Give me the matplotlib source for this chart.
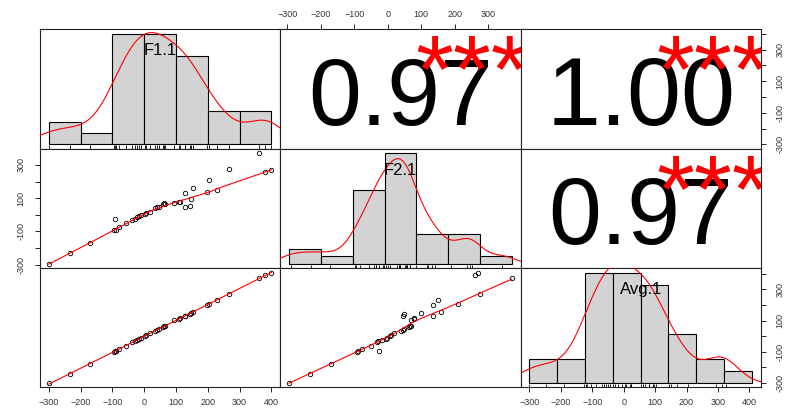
"""Correlation matrix chart: histograms on the diagonal, scatter + lowess below, |r| above."""

import matplotlib

matplotlib.use("Agg")
import matplotlib.pyplot as plt
import numpy as np

plt.rcParams["font.family"] = ["Liberation Sans", "DejaVu Sans"]

names = ["F1.1", "F2.1", "Avg.1"]
f1 = np.array([-300, -235, -171, -95, -91, -90, -78, -56, -37, -30, -22, -16, -10, 1, 5, 18, 33, 41, 45,
               59, 62, 64, 93, 109, 114, 128, 128, 143, 146, 154, 196, 204, 228, 268, 362, 380, 400], float)
f2 = np.array([-294, -232, -170, -92, -26, -90, -76, -50, -32, -28, -16, -6, -2, 6, 10, 18, 40, 46, 48,
               64, 70, 68, 70, 80, 80, 134, 46, 50, 98, 160, 136, 210, 150, 276, 370, 260, 270], float)
avg = np.array([-300, -240, -175, -104, -95, -94, -80, -60, -40, -32, -24, -18, -12, 2, 6, 19, 34, 42, 46,
                60, 64, 66, 101, 110, 115, 130, 130, 145, 148, 156, 201, 208, 232, 272, 371, 393, 408], float)
axis_ticks = np.arange(-300, 401, 100)

data = [f1, f2, avg]
nvar = len(data)


def padded(v):
    lo, hi = v.min(), v.max()
    d = 0.04 * (hi - lo)
    return lo - d, hi + d


def lowess(x, y, f=2 / 3, iters=3):
    order = np.argsort(x)
    x, y = x[order], y[order]
    n = len(x)
    ns = max(min(int(f * n + 1e-7), n), 2)
    rw = np.ones(n)
    fit = np.zeros(n)
    for _ in range(iters + 1):
        for i in range(n):
            d = np.abs(x - x[i])
            hmax = np.sort(d)[ns - 1]
            u = np.clip(d / max(hmax, 1e-12), 0, 1)
            w = (1 - u ** 3) ** 3 * rw
            sw = w.sum()
            xm, ym = (w * x).sum() / sw, (w * y).sum() / sw
            sxx = (w * (x - xm) ** 2).sum()
            slope = (w * (x - xm) * (y - ym)).sum() / sxx if sxx > 0 else 0.0
            fit[i] = ym + slope * (x[i] - xm)
        res = y - fit
        s = np.median(np.abs(res))
        if s == 0:
            break
        b = np.clip(res / (6 * s), -1, 1)
        rw = (1 - b ** 2) ** 2
    return x, fit


def kde(v):
    n = len(v)
    iqr = np.subtract(*np.percentile(v, [75, 25]))
    bw = 0.9 * min(v.std(ddof=1), iqr / 1.34) * n ** -0.2
    grid = np.linspace(v.min() - 3 * bw, v.max() + 3 * bw, 512)
    dens = np.exp(-0.5 * ((grid[:, None] - v[None, :]) / bw) ** 2).sum(axis=1) / (n * bw * np.sqrt(2 * np.pi))
    return grid, dens


def stars(r, n):
    t = np.inf if r >= 1 else r * np.sqrt((n - 2) / (1 - r ** 2))
    for crit, s in ((3.591, "***"), (2.724, "**"), (2.030, "*"), (1.690, ".")):
        if t > crit:
            return s
    return " "


def ticks_in(lim):
    return axis_ticks[(axis_ticks >= lim[0]) & (axis_ticks <= lim[1])]


fig = plt.figure(figsize=(8, 4.19), dpi=100)
left, right, bottom, top = 0.05, 0.951, 0.0752, 0.9296
pw, ph = (right - left) / nvar, (top - bottom) / nvar
label_kw = dict(labelsize=6.5, labelcolor="#333333", length=3.5, width=0.6, direction="out")

for i in range(nvar):
    for j in range(nvar):
        ax = fig.add_axes([left + j * pw, top - (i + 1) * ph, pw, ph])
        xlim, ylim = padded(data[j]), padded(data[i])
        ax.set_xlim(xlim)
        ax.set_ylim(ylim)
        ax.tick_params(which="both", length=0, labelbottom=False, labelleft=False)
        for sp in ax.spines.values():
            sp.set_linewidth(0.8)
            sp.set_color("#222222")

        if i == nvar - 1 and j % 2 == 0:
            ax.set_xticks(ticks_in(xlim))
            ax.tick_params(axis="x", bottom=True, labelbottom=True, pad=4, **label_kw)
        if i == 0 and j % 2 == 1:
            ax.set_xticks(ticks_in(xlim))
            ax.tick_params(axis="x", top=True, labeltop=True, bottom=False, labelbottom=False, pad=4, **label_kw)
        if (j == 0 and i % 2 == 1) or (j == nvar - 1 and i % 2 == 0):
            yt = ticks_in(ylim)
            ax.set_yticks(yt)
            ax.set_yticklabels([str(t) if (t + 300) % 200 == 0 else "" for t in yt],
                               rotation=90, va="center")
            if j == 0:
                ax.tick_params(axis="y", left=True, labelleft=True, pad=7, **label_kw)
            else:
                ax.tick_params(axis="y", right=True, labelright=True, left=False, labelleft=False,
                               pad=7, **label_kw)

        if i > j:
            x, y = data[j], data[i]
            ax.plot(x, y, "o", mfc="none", mec="black", ms=3.2, mew=0.6, zorder=2)
            sx, sy = lowess(x, y)
            ax.plot(sx, sy, color="red", lw=0.8, zorder=3)
        elif i < j:
            r = abs(np.corrcoef(data[j], data[i])[0, 1])
            size = 70 * (r + 0.3) / 1.3
            ax.text(0.5, 0.2, f"{r:.2f}", transform=ax.transAxes, ha="center", va="baseline",
                    fontsize=size, color="black")
            ax.text(0.8, 0.39, stars(r, len(data[i])), transform=ax.transAxes, ha="center",
                    va="baseline", fontsize=70, color="red", clip_on=True)
        else:
            v = data[i]
            breaks = np.arange(np.floor(v.min() / 100) * 100, np.ceil(v.max() / 100) * 100 + 1, 100)
            counts, _ = np.histogram(v, bins=breaks)
            dens = counts / (len(v) * np.diff(breaks))
            h = ax.inset_axes([0, 0, 1, 1])
            h.set_axis_off()
            span = breaks[-1] - breaks[0]
            h.set_xlim(breaks[0] - 0.04 * span, breaks[-1] + 0.04 * span)
            h.set_ylim(-0.04 * dens.max(), 1.04 * dens.max())
            h.bar(breaks[:-1], dens, width=np.diff(breaks), align="edge", color="#d3d3d3",
                  edgecolor="black", linewidth=0.8)
            gx, gy = kde(v)
            h.plot(gx, gy, color="red", lw=0.8)
            h.vlines(v, 0, 0.03, transform=h.get_xaxis_transform(), color="black", lw=0.6)
            h.text(0.5, 0.82, names[i], transform=h.transAxes, ha="center", va="center",
                   fontsize=12, color="black")

fig.savefig("out.png", dpi=100)
